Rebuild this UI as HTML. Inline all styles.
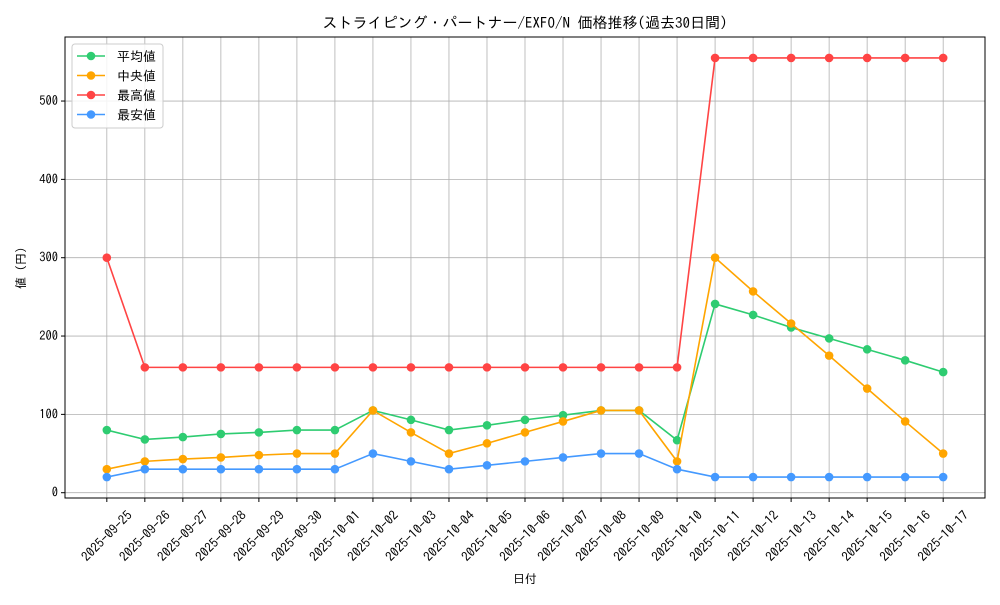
<!DOCTYPE html>
<html><head><meta charset="utf-8">
<style>
body{margin:0;background:#fff;}
svg text{font-family:"IPAGothic","Noto Sans CJK JP",monospace;fill:#000;}
</style></head>
<body>
<svg id="c" width="1000" height="600" xmlns="http://www.w3.org/2000/svg"></svg>
<script>
const dates=["2025-09-25","2025-09-26","2025-09-27","2025-09-28","2025-09-29","2025-09-30","2025-10-01","2025-10-02","2025-10-03","2025-10-04","2025-10-05","2025-10-06","2025-10-07","2025-10-08","2025-10-09","2025-10-10","2025-10-11","2025-10-12","2025-10-13","2025-10-14","2025-10-15","2025-10-16","2025-10-17"];
const avgVals=[80,68,71,75,77,80,80,105,93,80,86,93,99,105,105,67,241,227,211,197,183,169,154];
const medVals=[30,40,43,45,48,50,50,105,77,50,63,77,91,105,105,40,300,257,216,175,133,91,50];
const maxVals=[300,160,160,160,160,160,160,160,160,160,160,160,160,160,160,160,555,555,555,555,555,555,555];
const minVals=[20,30,30,30,30,30,30,50,40,30,35,40,45,50,50,30,20,20,20,20,20,20,20];
const yTicks=[0,100,200,300,400,500];
const seriesNames=["平均値","中央値","最高値","最安値"];
const seriesColors=["#2ecc71","#ffa500","#ff4444","#4499ff"];
const seriesData=[avgVals,medVals,maxVals,minVals];

const svg=document.getElementById('c');
const NS="http://www.w3.org/2000/svg";
const L=65,R=985,T=37,B=498;
const yMin=-6.75,yMax=581.75;
const xs=i=>L+(i+1.1)/24.2*(R-L);
const ys=v=>B-(v-yMin)/(yMax-yMin)*(B-T);
function mk(tag,attrs,parent){const e=document.createElementNS(NS,tag);for(const k in attrs)e.setAttribute(k,attrs[k]);(parent||svg).appendChild(e);return e;}

const grid=mk('g',{});


dates.forEach((d,i)=>{mk('line',{x1:xs(i),x2:xs(i),y1:T,y2:B,stroke:'#b0b0b0','stroke-width':0.8},grid);});
yTicks.forEach(v=>{mk('line',{x1:L,x2:R,y1:ys(v),y2:ys(v),stroke:'#b0b0b0','stroke-width':0.8},grid);});

const frame=mk('rect',{x:L,y:T,width:R-L,height:B-T,fill:'none',stroke:'#000','stroke-width':1});



const yax=mk('g',{});


yTicks.forEach(v=>{
  mk('line',{x1:L-4,x2:L,y1:ys(v),y2:ys(v),stroke:'#000'},yax);
  const t=mk('text',{x:L-7,y:ys(v)+4,'text-anchor':'end','font-size':12.5},yax);t.textContent=v;
});
const xax=mk('g',{});


dates.forEach((d,i)=>{
  mk('line',{x1:xs(i),x2:xs(i),y1:B,y2:B+4,stroke:'#000'},xax);
  const x=xs(i),cy=B+38;
  const t=mk('text',{x:x,y:cy+4.5,'text-anchor':'middle','font-size':13,transform:`rotate(-45 ${x} ${cy})`},xax);t.textContent=d;
});

seriesData.forEach((arr,si)=>{
  const g=mk('g',{});
  
  
  mk('polyline',{points:arr.map((v,i)=>xs(i)+','+ys(v)).join(' '),fill:'none',stroke:seriesColors[si],'stroke-width':1.6},g);
  arr.forEach((v,i)=>mk('circle',{cx:xs(i),cy:ys(v),r:4.3,fill:seriesColors[si]},g));
});

const lg=mk('g',{});


mk('rect',{x:72,y:44,width:91,height:84,rx:3,fill:'#fff','fill-opacity':0.85,stroke:'#ccc'},lg);
seriesNames.forEach((n,i)=>{
  const y=56+i*19.5;
  const e=mk('g',{},lg);
  
  
  mk('line',{x1:77,x2:105,y1:y,y2:y,stroke:seriesColors[i],'stroke-width':1.6},e);
  mk('circle',{cx:91,cy:y,r:4.3,fill:seriesColors[i]},e);
  const t=mk('text',{x:117,y:y+5,'font-size':13},e);t.textContent=n;
});

const title=mk('text',{x:525,y:28,'text-anchor':'middle','font-size':15});
title.textContent="ストライピング・パートナー/EXFO/N 価格推移(過去30日間)";


const xt=mk('text',{x:525,y:583,'text-anchor':'middle','font-size':12});
xt.textContent="日付";


const yt=mk('text',{x:25,y:268,'text-anchor':'middle','font-size':12,transform:'rotate(-90 25 268)'});
yt.textContent="値 (円)";


</script>
</body></html>
